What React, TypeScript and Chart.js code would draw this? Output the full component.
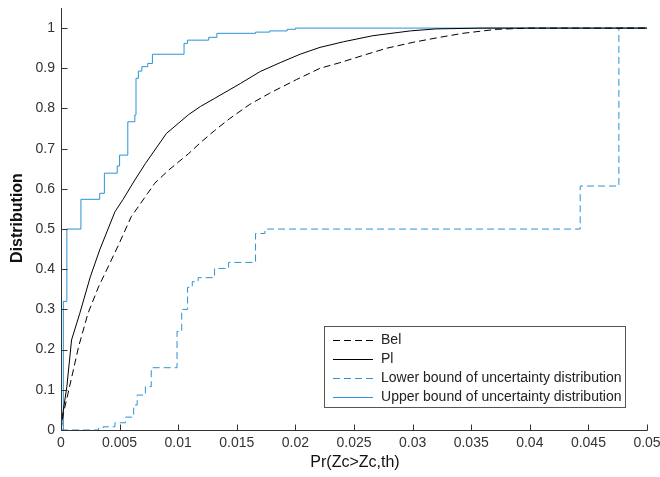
import { useEffect, useRef } from 'react';
import { Chart, registerables } from 'chart.js';

Chart.register(...registerables);

const X_TICKS = [0, 0.005, 0.01, 0.015, 0.02, 0.025, 0.03, 0.035, 0.04, 0.045, 0.05];
const X_TICK_LABELS = ['0', '0.005', '0.01', '0.015', '0.02', '0.025', '0.03', '0.035', '0.04', '0.045', '0.05'];
const Y_TICKS = [0, 0.1, 0.2, 0.3, 0.4, 0.5, 0.6, 0.7, 0.8, 0.9, 1];
const Y_TICK_LABELS = ['0', '0.1', '0.2', '0.3', '0.4', '0.5', '0.6', '0.7', '0.8', '0.9', '1'];

const X_TITLE = 'Pr(Zc>Zc,th)';
const Y_TITLE = 'Distribution';

const SERIES_NAMES = ['Bel', 'Pl', 'Lower bound of uncertainty distribution', 'Upper bound of uncertainty distribution'];

const BEL_X = [0, 0.0002, 0.0006, 0.0015, 0.0023, 0.0032, 0.0043, 0.0049, 0.006, 0.0074, 0.008, 0.0092, 0.0109, 0.0119, 0.0131, 0.0144, 0.0161, 0.0178, 0.0201, 0.0221, 0.0238, 0.0261, 0.0278, 0.0301, 0.0323, 0.0343, 0.036, 0.0372, 0.04, 0.05];
const BEL_Y = [0, 0.041, 0.091, 0.207, 0.29, 0.356, 0.423, 0.46, 0.531, 0.589, 0.614, 0.647, 0.688, 0.715, 0.745, 0.775, 0.81, 0.838, 0.872, 0.9, 0.914, 0.935, 0.95, 0.965, 0.977, 0.987, 0.993, 0.997, 1.0, 1.0];

const PL_X = [0, 0.0001, 0.0005, 0.0009, 0.0016, 0.0025, 0.0033, 0.0046, 0.0053, 0.0063, 0.0072, 0.009, 0.0109, 0.0119, 0.0131, 0.0153, 0.017, 0.0187, 0.0204, 0.0221, 0.0241, 0.0266, 0.0298, 0.032, 0.036, 0.05];
const PL_Y = [0, 0.03, 0.108, 0.224, 0.29, 0.381, 0.448, 0.543, 0.574, 0.622, 0.663, 0.738, 0.785, 0.805, 0.825, 0.862, 0.892, 0.914, 0.935, 0.952, 0.966, 0.981, 0.993, 0.998, 1.0, 1.0];

const LOWER_X = [0, 0.0032, 0.0036, 0.0046, 0.0055, 0.0062, 0.0065, 0.0072, 0.0077, 0.0099, 0.0103, 0.0108, 0.0112, 0.0117, 0.0131, 0.0143, 0.0166, 0.0174, 0.0443, 0.0476, 0.05];
const LOWER_Y = [0, 0.004, 0.008, 0.018, 0.032, 0.062, 0.087, 0.108, 0.155, 0.245, 0.3, 0.355, 0.369, 0.379, 0.402, 0.417, 0.489, 0.5, 0.607, 1.0, 1.0];

const UPPER_X = [0, 0.0002, 0.0005, 0.0017, 0.0033, 0.0037, 0.0048, 0.005, 0.0057, 0.0063, 0.0064, 0.0066, 0.0069, 0.0074, 0.0078, 0.0105, 0.0108, 0.0126, 0.0133, 0.0166, 0.0178, 0.0193, 0.02, 0.05];
const UPPER_Y = [0, 0.32, 0.5, 0.574, 0.589, 0.639, 0.657, 0.684, 0.767, 0.784, 0.875, 0.893, 0.904, 0.912, 0.935, 0.962, 0.97, 0.977, 0.987, 0.99, 0.993, 0.997, 1.0, 1.0];

const FONT = '"Liberation Sans", Arial, sans-serif';
const BLUE = '#2b93d4';
const AXIS_COLOR = '#333';

const toPts = (xs: number[], ys: number[]) => xs.map((x, i) => ({ x, y: ys[i] }));

const axesPlugin = {
  id: 'matlabAxes',
  afterDraw(chart: any) {
    const { ctx, chartArea: a, scales } = chart;
    const xs = scales.x;
    const ys = scales.y;
    ctx.save();
    ctx.strokeStyle = AXIS_COLOR;
    ctx.lineWidth = 1;
    ctx.beginPath();
    const L = Math.round(a.left) + 0.5;
    const B = Math.round(a.bottom) + 0.5;
    ctx.moveTo(L, a.top);
    ctx.lineTo(L, B);
    ctx.lineTo(a.right + 0.5, B);
    X_TICKS.forEach((v) => {
      const px = Math.round(xs.getPixelForValue(v)) + 0.5;
      ctx.moveTo(px, B);
      ctx.lineTo(px, B - 6);
    });
    Y_TICKS.forEach((v) => {
      const py = Math.round(ys.getPixelForValue(v)) + 0.5;
      ctx.moveTo(L, py);
      ctx.lineTo(L + 6, py);
    });
    ctx.stroke();

    ctx.fillStyle = '#111';
    ctx.textAlign = 'center';
    ctx.textBaseline = 'middle';
    ctx.font = `16px ${FONT}`;
    ctx.fillText(X_TITLE, 355, 463);
    ctx.save();
    ctx.translate(18, 218);
    ctx.rotate(-Math.PI / 2);
    ctx.font = `bold 16px ${FONT}`;
    ctx.fillText(Y_TITLE, 0, 0);
    ctx.restore();

    ctx.font = `14px ${FONT}`;
    const widths = SERIES_NAMES.map((n) => ctx.measureText(n).width);
    const maxW = Math.max(...widths);
    const right = Math.round(a.right - 22) + 0.5;
    const bottom = Math.round(a.bottom - 23) + 0.5;
    const top = bottom - 81;
    const textX = right - 4 - maxW;
    const lineEnd = textX - 8;
    const lineStart = lineEnd - 40;
    const left = Math.round(lineStart - 9) + 0.5;
    ctx.fillStyle = '#fff';
    ctx.fillRect(left, top, right - left, bottom - top);
    ctx.strokeStyle = '#555';
    ctx.lineWidth = 1;
    ctx.strokeRect(left, top, right - left, bottom - top);
    chart.data.datasets.forEach((ds: any, i: number) => {
      const y = Math.round(top + 13 + i * 19) + 0.5;
      ctx.save();
      ctx.strokeStyle = ds.borderColor;
      ctx.lineWidth = 1;
      ctx.setLineDash(ds.borderDash || []);
      ctx.beginPath();
      ctx.moveTo(lineStart, y);
      ctx.lineTo(lineEnd, y);
      ctx.stroke();
      ctx.restore();
      ctx.fillStyle = '#222';
      ctx.textAlign = 'left';
      ctx.textBaseline = 'middle';
      ctx.fillText(SERIES_NAMES[i], textX, y);
    });
    ctx.restore();
  },
};

export default function App() {
  const ref = useRef<HTMLCanvasElement>(null);
  useEffect(() => {
    if (!ref.current) return;
    const chart = new Chart(ref.current, {
      type: 'scatter',
      data: {
        datasets: [
          { label: SERIES_NAMES[0], data: toPts(BEL_X, BEL_Y), showLine: true, borderColor: '#000', borderWidth: 1, borderDash: [7, 4], pointRadius: 0, tension: 0 },
          { label: SERIES_NAMES[1], data: toPts(PL_X, PL_Y), showLine: true, borderColor: '#000', borderWidth: 1, pointRadius: 0, tension: 0 },
          { label: SERIES_NAMES[2], data: toPts(LOWER_X, LOWER_Y), showLine: true, borderColor: BLUE, borderWidth: 1, borderDash: [7, 4], pointRadius: 0, stepped: true },
          { label: SERIES_NAMES[3], data: toPts(UPPER_X, UPPER_Y), showLine: true, borderColor: BLUE, borderWidth: 1, pointRadius: 0, stepped: true },
        ],
      } as any,
      options: {
        animation: false,
        responsive: false,
        layout: { padding: { left: 0, right: 13, top: 8, bottom: 0 } },
        plugins: { legend: { display: false }, tooltip: { enabled: false } },
        scales: {
          x: {
            type: 'linear',
            min: 0,
            max: 0.05,
            grid: { display: false, drawTicks: false },
            border: { display: false },
            afterBuildTicks: (s: any) => { s.ticks = X_TICKS.map((v) => ({ value: v })); },
            afterFit: (s: any) => { s.height = 47; s.paddingLeft = 0; s.paddingRight = 0; },
            ticks: {
              autoSkip: false,
              maxRotation: 0,
              padding: 5,
              color: '#333',
              font: { family: FONT, size: 14 },
              callback: (_v: any, i: number) => X_TICK_LABELS[i],
            },
          },
          y: {
            type: 'linear',
            min: 0,
            max: 1.05,
            grid: { display: false, drawTicks: false },
            border: { display: false },
            afterBuildTicks: (s: any) => { s.ticks = Y_TICKS.map((v) => ({ value: v })); },
            afterFit: (s: any) => { s.width = 61; s.paddingTop = 0; s.paddingBottom = 0; },
            ticks: {
              autoSkip: false,
              padding: 6,
              color: '#333',
              font: { family: FONT, size: 14 },
              callback: (_v: any, i: number) => Y_TICK_LABELS[i],
            },
          },
        },
      } as any,
      plugins: [axesPlugin],
    });
    return () => chart.destroy();
  }, []);
  return (
    <div style={{ position: 'absolute', left: 0, top: 0, width: 660, height: 477, background: '#fff' }}>
      <canvas ref={ref} width={660} height={477} style={{ display: 'block' }} />
    </div>
  );
}
